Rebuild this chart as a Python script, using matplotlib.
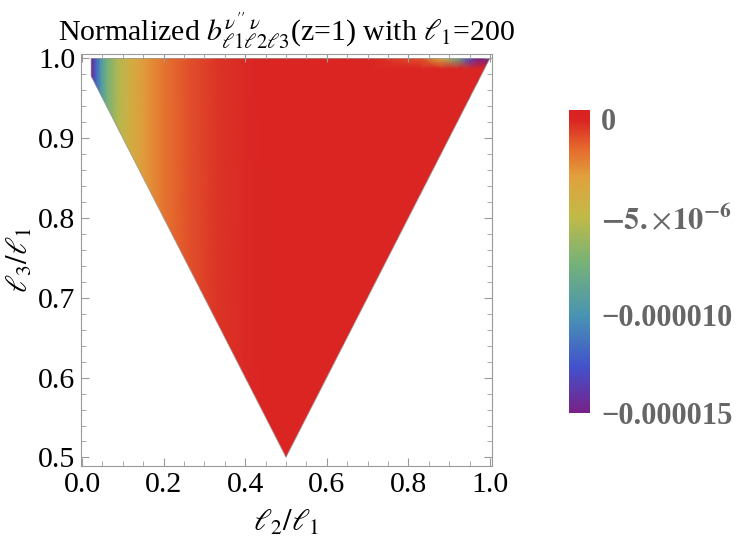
import numpy as np
import matplotlib
matplotlib.use('Agg')
import matplotlib.pyplot as plt
from matplotlib.colors import LinearSegmentedColormap, Normalize
from matplotlib.patches import Polygon
from matplotlib.ticker import MultipleLocator, FormatStrFormatter

plt.rcParams['font.family'] = ['Liberation Serif', 'DejaVu Serif']
plt.rcParams['mathtext.fontset'] = 'stix'

# value of the normalized bispectrum, read along l2/l1 (x) for a few l3/l1 rows (y)
x_nodes = [0.0, 0.022, 0.034, 0.047, 0.061, 0.088, 0.118, 0.154, 0.20, 0.26, 0.33, 0.42,
           0.50, 0.70, 0.83, 0.88, 0.92, 0.95, 0.97, 1.0]
y_nodes = [0.5, 0.987, 1.0]
z_rows = [
    [-1.5e-5, -1.5e-5, -1.2e-5, -9.5e-6, -7.5e-6, -5.5e-6, -4e-6, -2.8e-6, -1.8e-6, -1e-6,
     -4e-7, -1.5e-7, 0.0, 0.0, 0.0, 0.0, 0.0, 0.0, 0.0, 0.0],
    [-1.5e-5, -1.5e-5, -1.2e-5, -9.5e-6, -7.5e-6, -5.5e-6, -4e-6, -2.8e-6, -1.8e-6, -1e-6,
     -4e-7, -1.5e-7, 0.0, 0.0, 0.0, 0.0, 0.0, 0.0, 0.0, 0.0],
    [-1.5e-5, -1.5e-5, -1.2e-5, -9.5e-6, -7.5e-6, -5.5e-6, -4e-6, -2.8e-6, -1.8e-6, -1e-6,
     -4e-7, -1.5e-7, 0.0, 0.0, -1e-6, -4e-6, -8e-6, -1.3e-5, -1.5e-5, -1.5e-5],
]
region = [(0.022, 1.0), (0.022, 0.978), (0.5, 0.5), (1.0, 1.0)]

cbar_ticks = [0.0, -5e-6, -1e-5, -1.5e-5]
cbar_labels = ['0', r'$\mathbf{-5.}\!\times\!\mathbf{10^{-6}}$', '\u22120.000010', '\u22120.000015']

rainbow = LinearSegmentedColormap.from_list('rainbow_mma', [
    (0.00, (0.47, 0.13, 0.53)),
    (0.15, (0.26, 0.32, 0.80)),
    (0.32, (0.28, 0.58, 0.70)),
    (0.50, (0.47, 0.70, 0.46)),
    (0.65, (0.76, 0.73, 0.28)),
    (0.78, (0.88, 0.63, 0.24)),
    (0.87, (0.90, 0.42, 0.18)),
    (0.965, (0.855, 0.15, 0.14)),
    (1.00, (0.85, 0.13, 0.13)),
])
norm = Normalize(vmin=-1.5e-5, vmax=4.5e-7)

fig = plt.figure(figsize=(7.42, 5.44), dpi=100)
ax = fig.add_axes([0.109, 0.143, 0.554, 0.757])

X, Y = np.meshgrid(x_nodes, y_nodes)
Z = np.array(z_rows)
mesh = ax.pcolormesh(X, Y, Z, shading='gouraud', cmap=rainbow, norm=norm)
tri = Polygon(region, closed=True, facecolor='none', edgecolor='#999999', lw=0.5)
ax.add_patch(tri)
mesh.set_clip_path(tri)

ax.set_xlim(-0.003, 1.005)
ax.set_ylim(0.489, 1.005)
ax.xaxis.set_major_locator(MultipleLocator(0.2))
ax.xaxis.set_minor_locator(MultipleLocator(0.05))
ax.yaxis.set_major_locator(MultipleLocator(0.1))
ax.yaxis.set_minor_locator(MultipleLocator(0.02))
ax.xaxis.set_major_formatter(FormatStrFormatter('%.1f'))
ax.yaxis.set_major_formatter(FormatStrFormatter('%.1f'))
for s in ax.spines.values():
    s.set_color('#9a9a9a')
ax.tick_params(which='both', direction='in', top=True, right=True, color='#9a9a9a')
ax.tick_params(which='major', length=6, labelsize=21.5, pad=4)
ax.tick_params(which='minor', length=3.5)

ax.set_xlabel(r'$\ell_2/\ell_1$', fontsize=22, labelpad=8)
ax.set_ylabel(r'$\ell_3/\ell_1$', fontsize=22, labelpad=2)
ax.set_title(r"Normalized $b^{\nu''\;\nu}_{\ell 1\ell 2\ell 3}$(z=1) with $\ell_1$=200",
             fontsize=21.5, pad=10)

cax = fig.add_axes([0.767, 0.241, 0.028, 0.557])
cb = fig.colorbar(mesh, cax=cax)
cb.outline.set_visible(False)
cb.set_ticks(cbar_ticks)
cb.set_ticklabels(cbar_labels)
cax.tick_params(length=0, pad=8, labelsize=22, labelcolor='#666666')
for t in cax.get_yticklabels():
    t.set_fontweight('bold')

fig.savefig('out.png', dpi=100)
